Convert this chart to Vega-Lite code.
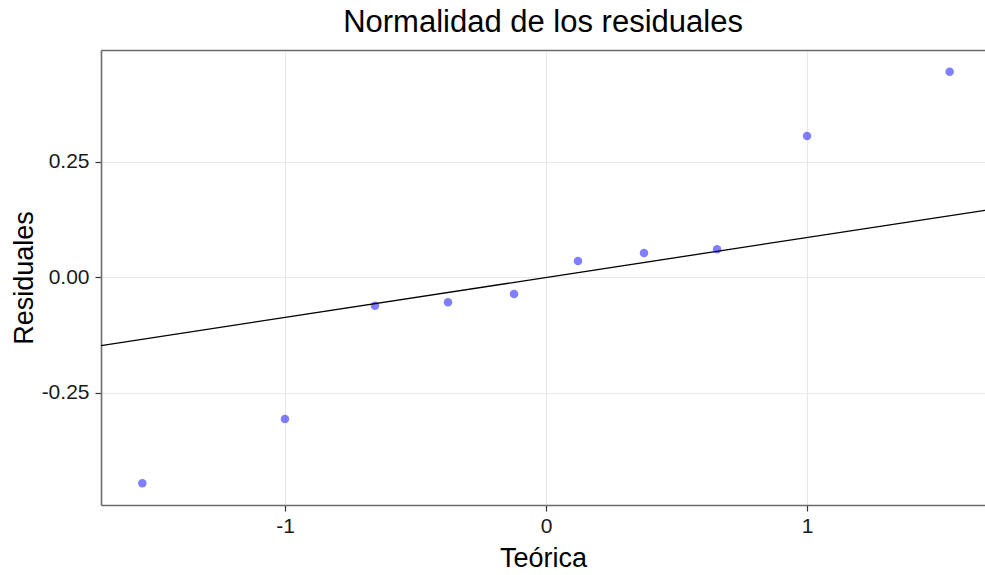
{
  "$schema": "https://vega.github.io/schema/vega-lite/v6.json",
  "width": 884,
  "height": 455,
  "autosize": {"type": "none"},
  "padding": {"left": 101, "top": 50, "right": 0, "bottom": 70},
  "background": "white",
  "title": {
    "text": "Normalidad de los residuales",
    "font": "Liberation Sans",
    "fontSize": 31,
    "fontWeight": "normal",
    "color": "#000000",
    "anchor": "middle",
    "offset": 11
  },
  "config": {
    "view": {"stroke": null},
    "axis": {
      "labelFont": "Liberation Sans",
      "labelFontSize": 21,
      "labelColor": "#1a1a1a",
      "titleFont": "Liberation Sans",
      "titleFontSize": 27,
      "titleFontWeight": "normal",
      "titleColor": "#000000",
      "domainColor": "#6b6b6b",
      "domainWidth": 1.6,
      "tickColor": "#333333",
      "tickWidth": 1.2,
      "tickSize": 6,
      "gridColor": "#e8e8e8",
      "gridWidth": 1.2
    }
  },
  "layer": [
    {
      "data": {
        "values": [
          {"teorica": -1.5466, "residual": -0.446},
          {"teorica": -1.0003, "residual": -0.307},
          {"teorica": -0.6554, "residual": -0.0615},
          {"teorica": -0.3755, "residual": -0.054},
          {"teorica": -0.1226, "residual": -0.036},
          {"teorica": 0.1226, "residual": 0.0353},
          {"teorica": 0.3755, "residual": 0.0526},
          {"teorica": 0.6554, "residual": 0.0606},
          {"teorica": 1.0003, "residual": 0.306},
          {"teorica": 1.5466, "residual": 0.445}
        ]
      },
      "mark": {"type": "circle", "size": 72, "color": "#0000ff", "opacity": 0.5},
      "encoding": {
        "x": {
          "field": "teorica",
          "type": "quantitative",
          "scale": {"domain": [-1.705, 1.682], "nice": false, "zero": false},
          "axis": {
            "orient": "bottom",
            "title": "Teórica",
            "values": [-1, 0, 1],
            "labelExpr": "datum.value < 0 ? '-' + format(-datum.value, 'd') : format(datum.value, 'd')",
            "labelPadding": 4,
            "titlePadding": 9
          }
        },
        "y": {
          "field": "residual",
          "type": "quantitative",
          "scale": {"domain": [-0.493, 0.492], "nice": false, "zero": false},
          "axis": {
            "orient": "left",
            "title": "Residuales",
            "values": [-0.25, 0, 0.25],
            "labelExpr": "datum.value < 0 ? '-' + format(-datum.value, '.2f') : format(datum.value, '.2f')",
            "labelPadding": 6,
            "titlePadding": 3
          }
        }
      }
    },
    {
      "data": {
        "values": [
          {"teorica": -1.705, "residual": -0.148},
          {"teorica": 1.682, "residual": 0.145}
        ]
      },
      "mark": {"type": "line", "color": "#000000", "strokeWidth": 1.3, "clip": true},
      "encoding": {
        "x": {
          "field": "teorica",
          "type": "quantitative",
          "axis": {
            "orient": "top",
            "title": null,
            "values": [-1.5, -0.5, 0.5, 1.5],
            "labels": false,
            "ticks": false,
            "domain": true,
            "gridColor": "#f3f3f3",
            "gridWidth": 1
          }
        },
        "y": {
          "field": "residual",
          "type": "quantitative",
          "axis": {
            "orient": "right",
            "title": null,
            "values": [-0.375, -0.125, 0.125, 0.375],
            "labels": false,
            "ticks": false,
            "domain": false,
            "gridColor": "#f3f3f3",
            "gridWidth": 1
          }
        }
      }
    }
  ],
  "resolve": {"axis": {"x": "independent", "y": "independent"}}
}
